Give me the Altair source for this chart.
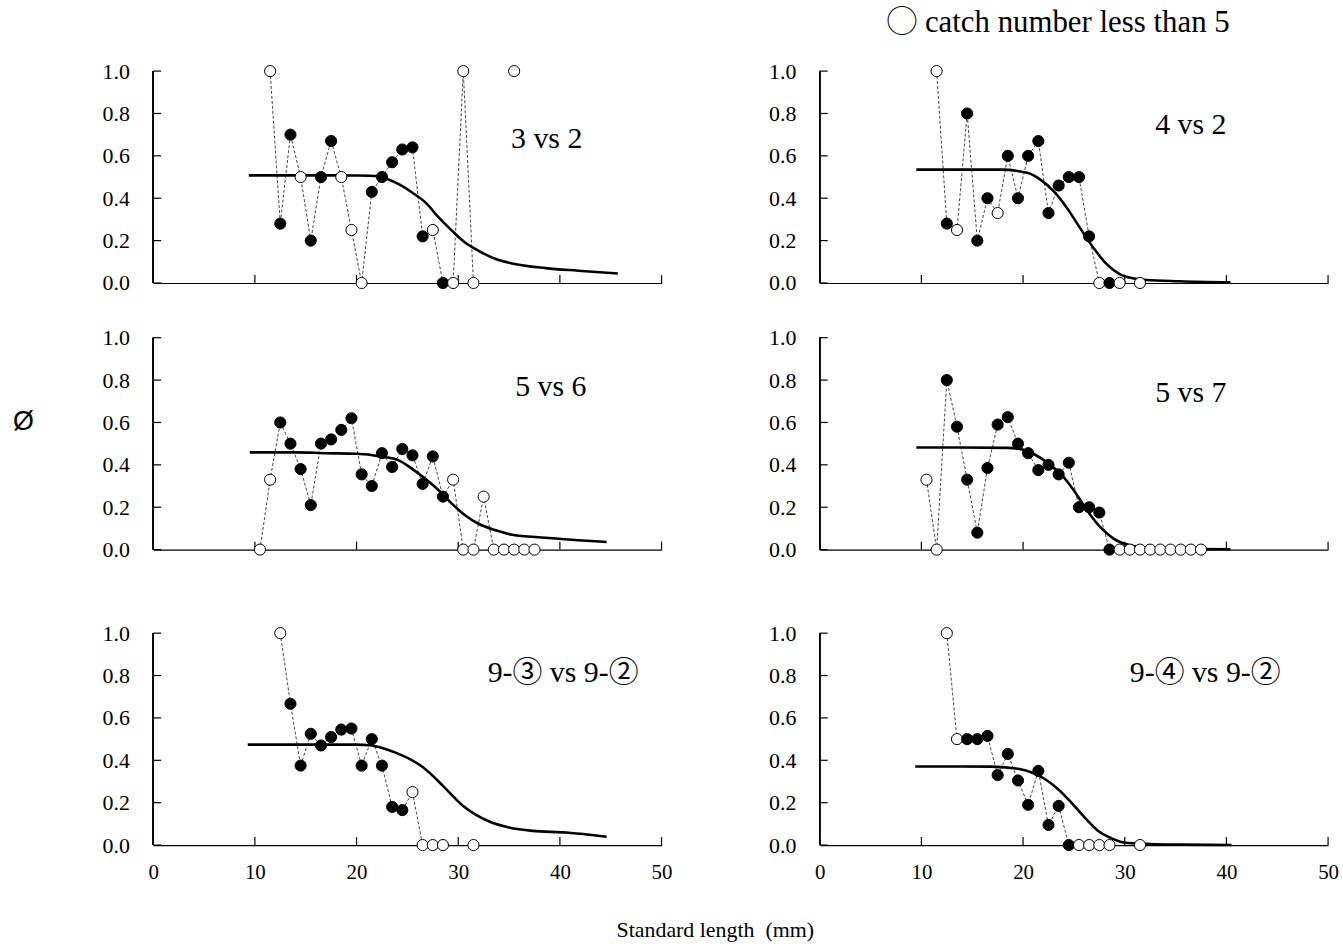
import altair as alt
import pandas as pd

SERIF = "Liberation Serif, Noto Sans CJK JP, serif"

# ---------------- data ----------------
panel_names = ["3 vs 2", "4 vs 2", "5 vs 6", "5 vs 7", "9-③ vs 9-②", "9-④ vs 9-②"]

# observed phi per length class ("o" = catch number less than 5, "f" = otherwise)
p1_len = [11.5, 12.5, 13.5, 14.5, 15.5, 16.5, 17.5, 18.5, 19.5, 20.5, 21.5, 22.5,
          23.5, 24.5, 25.5, 26.5, 27.5, 28.5, 29.5, 30.5, 31.5, 35.5]
p1_phi = [1.0, 0.28, 0.70, 0.50, 0.20, 0.50, 0.67, 0.50, 0.25, 0.0, 0.43, 0.50,
          0.57, 0.63, 0.64, 0.22, 0.25, 0.0, 0.0, 1.0, 0.0, 1.0]
p1_kind = ["o", "f", "f", "o", "f", "f", "f", "o", "o", "o", "f", "f",
           "f", "f", "f", "f", "o", "f", "o", "o", "o", "o"]

p2_len = [11.5, 12.5, 13.5, 14.5, 15.5, 16.5, 17.5, 18.5, 19.5, 20.5, 21.5, 22.5,
          23.5, 24.5, 25.5, 26.5, 27.5, 28.5, 29.5, 31.5]
p2_phi = [1.0, 0.28, 0.25, 0.80, 0.20, 0.40, 0.33, 0.60, 0.40, 0.60, 0.67, 0.33,
          0.46, 0.50, 0.50, 0.22, 0.0, 0.0, 0.0, 0.0]
p2_kind = ["o", "f", "o", "f", "f", "f", "o", "f", "f", "f", "f", "f",
           "f", "f", "f", "f", "o", "f", "o", "o"]

p3_len = [10.5, 11.5, 12.5, 13.5, 14.5, 15.5, 16.5, 17.5, 18.5, 19.5, 20.5, 21.5,
          22.5, 23.5, 24.5, 25.5, 26.5, 27.5, 28.5, 29.5, 30.5, 31.5, 32.5, 33.5,
          34.5, 35.5, 36.5, 37.5]
p3_phi = [0.0, 0.33, 0.60, 0.50, 0.38, 0.21, 0.50, 0.52, 0.565, 0.62, 0.355, 0.30,
          0.455, 0.39, 0.475, 0.445, 0.31, 0.44, 0.25, 0.33, 0.0, 0.0, 0.25, 0.0,
          0.0, 0.0, 0.0, 0.0]
p3_kind = ["o", "o", "f", "f", "f", "f", "f", "f", "f", "f", "f", "f",
           "f", "f", "f", "f", "f", "f", "f", "o", "o", "o", "o", "o",
           "o", "o", "o", "o"]

p4_len = [10.5, 11.5, 12.5, 13.5, 14.5, 15.5, 16.5, 17.5, 18.5, 19.5, 20.5, 21.5,
          22.5, 23.5, 24.5, 25.5, 26.5, 27.5, 28.5, 29.5, 30.5, 31.5, 32.5, 33.5,
          34.5, 35.5, 36.5, 37.5]
p4_phi = [0.33, 0.0, 0.80, 0.58, 0.33, 0.08, 0.385, 0.59, 0.625, 0.50, 0.455, 0.375,
          0.40, 0.355, 0.41, 0.20, 0.20, 0.175, 0.0, 0.0, 0.0, 0.0, 0.0, 0.0,
          0.0, 0.0, 0.0, 0.0]
p4_kind = ["o", "o", "f", "f", "f", "f", "f", "f", "f", "f", "f", "f",
           "f", "f", "f", "f", "f", "f", "f", "o", "o", "o", "o", "o",
           "o", "o", "o", "o"]

p5_len = [12.5, 13.5, 14.5, 15.5, 16.5, 17.5, 18.5, 19.5, 20.5, 21.5, 22.5, 23.5,
          24.5, 25.5, 26.5, 27.5, 28.5, 31.5]
p5_phi = [1.0, 0.667, 0.375, 0.525, 0.47, 0.51, 0.545, 0.55, 0.375, 0.50, 0.375, 0.18,
          0.165, 0.25, 0.0, 0.0, 0.0, 0.0]
p5_kind = ["o", "f", "f", "f", "f", "f", "f", "f", "f", "f", "f", "f",
           "f", "o", "o", "o", "o", "o"]

p6_len = [12.5, 13.5, 14.5, 15.5, 16.5, 17.5, 18.5, 19.5, 20.5, 21.5, 22.5, 23.5,
          24.5, 25.5, 26.5, 27.5, 28.5, 31.5]
p6_phi = [1.0, 0.50, 0.50, 0.50, 0.515, 0.33, 0.43, 0.305, 0.19, 0.35, 0.095, 0.185,
          0.0, 0.0, 0.0, 0.0, 0.0, 0.0]
p6_kind = ["o", "o", "f", "f", "f", "f", "f", "f", "f", "f", "f", "f",
           "f", "o", "o", "o", "o", "o"]

# fitted curves
c1_len = [9.4, 12, 16, 20, 22.3, 22.9, 24.2, 25.5, 26.8, 28.1, 29.4, 30.7, 32.0,
          33.7, 35.3, 38.6, 41.8, 45.7]
c1_phi = [0.508, 0.508, 0.508, 0.507, 0.503, 0.493, 0.465, 0.426, 0.379, 0.308,
          0.246, 0.19, 0.152, 0.113, 0.092, 0.07, 0.058, 0.045]
c2_len = [9.5, 14, 17.8, 20.4, 21.7, 23.0, 24.3, 25.6, 26.9, 28.2, 29.5, 30.8,
          32.1, 35.4, 40.4]
c2_phi = [0.535, 0.535, 0.535, 0.52, 0.488, 0.433, 0.355, 0.26, 0.167, 0.09, 0.042,
          0.022, 0.014, 0.008, 0.003]
c3_len = [9.5, 14, 17, 20, 22.3, 24.2, 25.5, 26.8, 28.1, 29.4, 30.7, 32.0, 33.7,
          35.3, 38.6, 41.8, 44.6]
c3_phi = [0.459, 0.459, 0.455, 0.452, 0.44, 0.42, 0.38, 0.333, 0.279, 0.216, 0.161,
          0.122, 0.091, 0.07, 0.056, 0.044, 0.036]
c4_len = [9.5, 14, 18.5, 19.8, 21.1, 22.4, 23.7, 25.0, 26.3, 27.6, 28.9, 30.5,
          32.1, 35.4, 40.4]
c4_phi = [0.482, 0.482, 0.48, 0.474, 0.45, 0.41, 0.357, 0.279, 0.185, 0.106, 0.052,
          0.02, 0.009, 0.003, 0.002]
c5_len = [9.3, 14, 20.0, 21.3, 22.6, 23.9, 25.2, 26.5, 27.8, 29.1, 30.4, 31.8,
          33.1, 35.0, 37.3, 40.6, 44.6]
c5_phi = [0.474, 0.474, 0.474, 0.471, 0.457, 0.435, 0.407, 0.368, 0.313, 0.25,
          0.188, 0.141, 0.11, 0.083, 0.067, 0.059, 0.039]
c6_len = [9.4, 14, 16.9, 19.5, 20.8, 22.1, 23.4, 24.7, 26.0, 27.3, 28.6, 29.9,
          32.5, 35.7, 40.5]
c6_phi = [0.371, 0.371, 0.37, 0.36, 0.344, 0.313, 0.266, 0.203, 0.133, 0.07,
          0.034, 0.0125, 0.005, 0.002, 0.0]

x_ticks = [0, 10, 20, 30, 40, 50]
y_ticks = [0.0, 0.2, 0.4, 0.6, 0.8, 1.0]

legend_text = "◯ catch number less than 5"
x_title = "Standard length\u00a0\u00a0(mm)"
y_title = "Ø"

# ---------------- layout / style ----------------
W, H = 511, 213          # plot area of each panel
H_BOTTOM = 253           # bottom row: extra room above the plot
LABEL_POS = [(35.2, 0.68), (33.0, 0.745), (35.6, 0.765), (33.0, 0.74), (32.9, 0.81), (30.5, 0.81)]
TICK = 8

obs = [(p1_len, p1_phi, p1_kind), (p2_len, p2_phi, p2_kind), (p3_len, p3_phi, p3_kind),
       (p4_len, p4_phi, p4_kind), (p5_len, p5_phi, p5_kind), (p6_len, p6_phi, p6_kind)]
curves = [(c1_len, c1_phi), (c2_len, c2_phi), (c3_len, c3_phi),
          (c4_len, c4_phi), (c5_len, c5_phi), (c6_len, c6_phi)]


def obs_frame(lens, phis, kinds):
    seg, segs = 0, []
    for j, v in enumerate(lens):
        if j > 0 and v - lens[j - 1] > 1.01:
            seg += 1
        segs.append(seg)
    return pd.DataFrame({"len": lens, "phi": phis, "kind": kinds, "seg": segs})


def panel(i, bottom, ytitle=False, title=None):
    h = H_BOTTOM if bottom else H
    ys = alt.Scale(domain=[0, h / H], nice=False, zero=True)
    xs = alt.Scale(domain=[0, 50], nice=False)
    xax = alt.Axis(values=x_ticks, labels=bottom, ticks=False, tickSize=0, grid=False,
                   domainColor="black", domainWidth=1.2, labelFont=SERIF, labelFontSize=21,
                   labelColor="black", labelPadding=17, labelFlush=False, title=None)
    yax_kw = dict(values=y_ticks, format=".1f", ticks=False, tickSize=0, grid=False,
                  domain=False, labelFont=SERIF, labelFontSize=22, labelColor="black",
                  labelPadding=24)
    if ytitle:
        yax = alt.Axis(title=y_title, titleAngle=0, titleFont="Liberation Sans", titleFontSize=27,
                       titleFontWeight="normal", titleColor="black", titleAlign="center",
                       titleBaseline="middle", titleX=-131, titleY=84, **yax_kw)
    else:
        yax = alt.Axis(title=None, **yax_kw)

    od = obs_frame(*obs[i])
    cd = pd.DataFrame({"len": curves[i][0], "phi": curves[i][1]})

    X = alt.X("len:Q", scale=xs, axis=xax)
    Y = alt.Y("phi:Q", scale=ys, axis=yax)

    dashed = alt.Chart(od).mark_line(strokeDash=[3, 2], color="#444444", strokeWidth=1).encode(
        x=X, y=Y, detail="seg:N")
    curve = alt.Chart(cd).mark_line(color="black", strokeWidth=2.6, interpolate="monotone").encode(
        x="len:Q", y="phi:Q")
    pts = alt.Chart(od).mark_point(shape="circle", filled=True, size=125, stroke="black",
                                   strokeWidth=1, opacity=1).encode(
        x="len:Q", y="phi:Q",
        fill=alt.Fill("kind:N", scale=alt.Scale(domain=["o", "f"], range=["white", "black"]),
                      legend=None))

    ytk = pd.DataFrame({"v": y_ticks})
    xtk = pd.DataFrame({"v": x_ticks})
    yline = alt.Chart(ytk).mark_rule(color="black", strokeWidth=1.2).encode(
        x=alt.value(0), y=alt.datum(min(y_ticks)), y2=alt.datum(max(y_ticks)))
    yt = alt.Chart(ytk).mark_rule(color="black", strokeWidth=1.2).encode(
        y="v:Q", x=alt.value(0), x2=alt.value(TICK))
    xt = alt.Chart(xtk).mark_rule(color="black", strokeWidth=1.2).encode(
        x="v:Q", y=alt.value(h), y2=alt.value(h - TICK))

    lab = pd.DataFrame({"t": [panel_names[i]], "lx": [LABEL_POS[i][0]], "ly": [LABEL_POS[i][1]]})
    txt = alt.Chart(lab).mark_text(font=SERIF, fontSize=30, align="left", baseline="middle",
                                   color="black").encode(x="lx:Q", y="ly:Q", text="t:N")

    props = dict(width=W, height=h, view=alt.ViewBackground(stroke="transparent", strokeWidth=0))
    if title is not None:
        props["title"] = title
    return alt.layer(dashed, yline, yt, xt, curve, pts, txt).properties(**props)


legend_title = alt.TitleParams(legend_text, anchor="start", frame="group", dx=67, offset=21,
                               font=SERIF, fontSize=31, fontWeight="normal", color="black")

charts = [
    panel(0, False),
    panel(1, False, title=legend_title),
    panel(2, False, ytitle=True),
    panel(3, False),
    panel(4, True),
    panel(5, True),
]

chart = alt.concat(*charts, columns=2, spacing={"row": 33, "column": 96}).properties(
    title=alt.TitleParams(x_title, orient="bottom", anchor="middle", font=SERIF, fontSize=22,
                          fontWeight="normal", color="black", offset=37, dx=40),
    padding={"left": 12, "top": 5, "right": 4, "bottom": 2},
).configure_view(strokeWidth=0, stroke="transparent").configure(background="white")

chart.save("out.html", embed_options={"renderer": "svg", "actions": False})
